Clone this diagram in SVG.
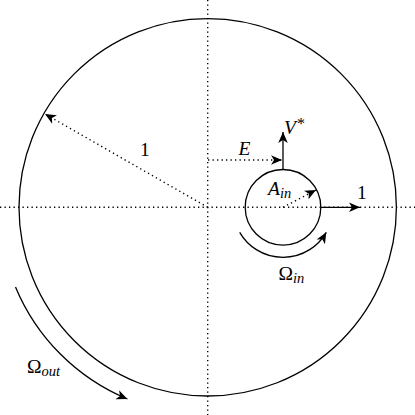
<svg xmlns="http://www.w3.org/2000/svg" width="415" height="415" viewBox="0 0 415 415">
<style>
.solid{fill:none;stroke:#000;stroke-width:1.3}
.dot{fill:none;stroke:#000;stroke-width:1.4;stroke-dasharray:1.3 3.2}
.lbl{font-family:"Liberation Serif",serif;font-size:19.5px;fill:#000}
.it{font-style:italic}
.sub{font-family:"Liberation Serif",serif;font-size:14.5px;font-style:italic;fill:#000}
</style>
<defs>
<marker id="ah" markerUnits="userSpaceOnUse" markerWidth="14" markerHeight="12" viewBox="-12 -6 14 12" refX="0" refY="0" orient="auto">
<path d="M0,0 L-11,-4.8 L-8,0 L-11,4.8 Z" fill="#000" stroke="none"/>
</marker>
</defs>
<rect width="415" height="415" fill="#fff"/>
<g id="axes">
<line class="dot" x1="0" y1="207.3" x2="415" y2="207.3"/>
<line class="dot" x1="207.7" y1="0" x2="207.7" y2="415"/>
</g>
<g id="outer-circle">
<circle class="solid" cx="207.7" cy="207.3" r="188.7"/>
</g>
<g id="inner-circle">
<circle class="solid" cx="283" cy="207.3" r="37.8"/>
</g>
<g id="connectors">
<line class="dot" x1="207.7" y1="207.3" x2="45" y2="114" marker-end="url(#ah)"/>
<line class="dot" x1="208" y1="160" x2="282" y2="160" marker-end="url(#ah)"/>
<line class="dot" x1="283" y1="207.3" x2="316" y2="190" marker-end="url(#ah)"/>
<line class="solid" x1="283" y1="169.5" x2="283" y2="132" marker-end="url(#ah)"/>
<line class="solid" x1="321" y1="207.3" x2="360" y2="207.3" marker-end="url(#ah)"/>
<path class="solid" d="M239.7,232.3 A50,50 0 0 0 326.3,232.3" marker-end="url(#ah)"/>
<path class="solid" d="M15.5,286.9 A208,208 0 0 0 127.4,399" marker-end="url(#ah)"/>
</g>
<g id="labels">
<text class="lbl" x="140" y="155.5">1</text>
<text class="lbl" x="357" y="199">1</text>
<text class="lbl it" x="238.5" y="155">E</text>
<text class="lbl it" x="284" y="133.5">V<tspan font-size="16" font-style="normal" dx="1" dy="-5">*</tspan></text>
<text class="lbl it" x="268" y="195">A<tspan class="sub" dy="3">in</tspan></text>
<text class="lbl" x="278.5" y="280">Ω<tspan class="sub" dy="3">in</tspan></text>
<text class="lbl" x="27" y="373">Ω<tspan class="sub" dy="3">out</tspan></text>
</g>
</svg>
